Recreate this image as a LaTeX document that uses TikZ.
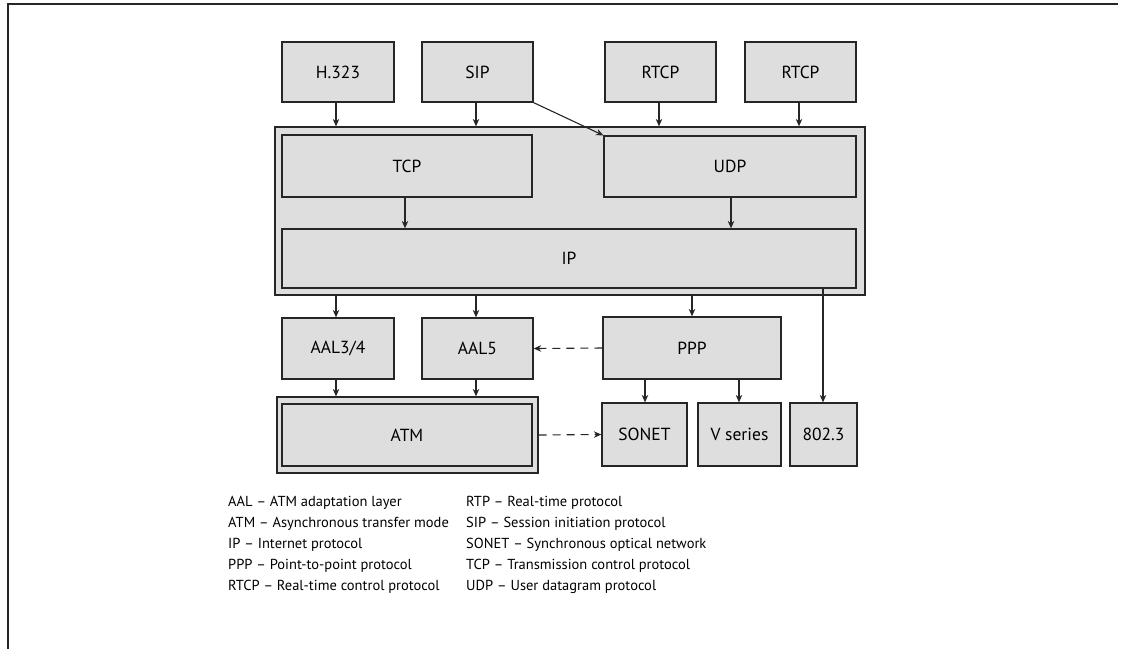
\documentclass[tikz,border=0pt]{standalone}
\usepackage{fontspec}
\setmainfont{PT Sans}
\usetikzlibrary{arrows.meta}
\begin{document}
\begin{tikzpicture}[x=1pt,y=-1pt,
  box/.style={draw=black!85, line width=1.3pt, fill=black!13, inner sep=0pt,
    font=\fontsize{17.5}{19}\selectfont},
  frame/.style={draw=black!85, line width=1.3pt, fill=black!13, inner sep=0pt},
  link/.style={draw=black!85, line width=1.1pt, -{Stealth[length=7.5pt,width=6.5pt]}},
  dlink/.style={link, dash pattern=on 8pt off 6pt},
  legend/.style={anchor=west, inner sep=0pt, font=\fontsize{14.5}{16}\selectfont}]
\useasboundingbox (0,0) rectangle (1121,649);
% page frame
\draw[line width=2pt, black!85] (8,649) -- (8,4) -- (1118,4);

% top row
\node[box, minimum width=112pt, minimum height=60pt] (h323) at (338,72) {H.323};
\node[box, minimum width=111pt, minimum height=60pt] (sip) at (477.5,72) {SIP};
\node[box, minimum width=111pt, minimum height=60pt] (rtcpa) at (660.5,72) {RTCP};
\node[box, minimum width=111pt, minimum height=60pt] (rtcpb) at (800.5,72) {RTCP};

% transport and network layers
\node[frame, minimum width=590pt, minimum height=168pt] (stack) at (570,211) {};
\node[box, minimum width=250pt, minimum height=62pt] (tcp) at (407,166) {TCP};
\node[box, minimum width=252pt, minimum height=61pt] (udp) at (730,166.5) {UDP};
\node[box, minimum width=574pt, minimum height=59pt] (ip) at (569,258.5) {IP};

% adaptation layers and PPP
\node[box, minimum width=112pt, minimum height=61pt] (aal34) at (338,348.5) {AAL3/4};
\node[box, minimum width=111pt, minimum height=61pt] (aal5) at (477.5,348.5) {AAL5};
\node[box, minimum width=178pt, minimum height=62pt] (ppp) at (692,348) {PPP};

% physical layers
\node[frame, minimum width=261pt, minimum height=76pt] (atmo) at (407.5,435) {};
\node[box, minimum width=250pt, minimum height=62pt] (atm) at (407,435) {ATM};
\node[box, minimum width=85pt, minimum height=63pt] (sonet) at (644.5,434.5) {SONET};
\node[box, minimum width=83pt, minimum height=63pt] (vser) at (739.5,434.5) {V series};
\node[box, minimum width=67pt, minimum height=63pt] (eth) at (823.5,434.5) {802.3};

% connectors
\coordinate (p1) at (336,0);
\coordinate (p2) at (476,0);
\coordinate (p3) at (659,0);
\coordinate (p4) at (799,0);
\draw[link] (h323.south -| p1) -- (stack.north -| p1);
\draw[link] (sip.south -| p2) -- (stack.north -| p2);
\draw[link] (rtcpa.south -| p3) -- (stack.north -| p3);
\draw[link] (rtcpb.south -| p4) -- (stack.north -| p4);
\draw[link] (sip.south east) -- (udp.north west);
\coordinate (p5) at (405,0);
\coordinate (p6) at (731,0);
\draw[link] (tcp.south -| p5) -- (ip.north -| p5);
\draw[link] (udp.south -| p6) -- (ip.north -| p6);
\draw[link] (stack.south -| p1) -- (aal34.north -| p1);
\draw[link] (stack.south -| p2) -- (aal5.north -| p2);
\draw[link] (stack.south -| ppp.north) -- (ppp.north);
\coordinate (p7) at (823,0);
\draw[link] (ip.south -| p7) -- (eth.north -| p7);
\draw[dlink] (ppp.west) -- (aal5.east);
\draw[link] (aal34.south -| p1) -- (atmo.north -| p1);
\draw[link] (aal5.south -| p2) -- (atmo.north -| p2);
\draw[dlink] (atmo.east) -- (sonet.west);
\coordinate (p8) at (645,0);
\coordinate (p9) at (739,0);
\draw[link] (ppp.south -| p8) -- (sonet.north -| p8);
\draw[link] (ppp.south -| p9) -- (vser.north -| p9);

% abbreviations
\node[legend] (l1) at (228,503) {AAL -- ATM adaptation layer};
\node[legend] (l2) at (228,524) {ATM -- Asynchronous transfer mode};
\node[legend] (l3) at (228,545) {IP -- Internet protocol};
\node[legend] (l4) at (228,566) {PPP -- Point-to-point protocol};
\node[legend] (l5) at (228,587) {RTCP -- Real-time control protocol};
\node[legend] (r1) at (466,503) {RTP -- Real-time protocol};
\node[legend] (r2) at (466,524) {SIP -- Session initiation protocol};
\node[legend] (r3) at (466,545) {SONET -- Synchronous optical network};
\node[legend] (r4) at (466,566) {TCP -- Transmission control protocol};
\node[legend] (r5) at (466,587) {UDP -- User datagram protocol};
\end{tikzpicture}
\end{document}
